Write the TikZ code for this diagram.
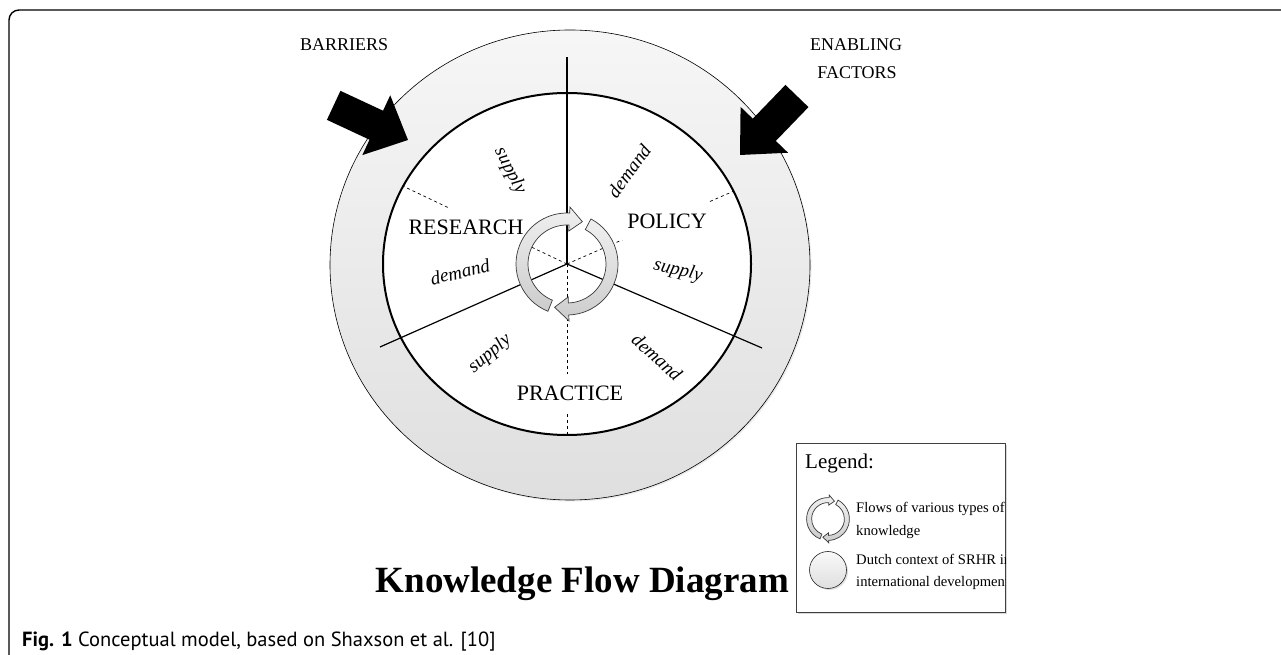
\documentclass[tikz,border=0pt]{standalone}
\usepackage{fontspec}
\setmainfont{Liberation Serif}
\newfontfamily\capfont{PT Sans}
\tikzset{
  sector/.style={line width=1.2pt, black},
  dashsector/.style={line width=0.7pt, black, dash pattern=on 3pt off 3pt},
  domainlabel/.style={font=\fontsize{22}{26}\selectfont, fill=white, inner xsep=5pt, inner ysep=12pt},
  flowlabel/.style={font=\fontsize{19}{22}\selectfont\itshape, inner sep=1pt},
  sidelabel/.style={font=\fontsize{18}{22}\selectfont, inner sep=0pt},
  flowarrow/.style={draw=gray!45!black, line width=0.7pt, top color=gray!12, bottom color=gray!40},
  legtext/.style={font=\fontsize{14.6}{16}\selectfont, anchor=base west, inner sep=0pt},
}
\newcommand{\cycarrows}[3]{%
  \begin{scope}[shift={(#1,#2)}, scale=#3]
    \path[flowarrow] (248:51) arc[start angle=248, end angle=87, radius=51]
      -- (87:57) -- (70:45) -- (87:33) -- (87:39)
      arc[start angle=87, end angle=248, radius=39] -- cycle;
    \path[flowarrow] (62:51) arc[start angle=62, end angle=-88, radius=51]
      -- (-88:57) -- (-106:45) -- (-88:33) -- (-88:39)
      arc[start angle=-88, end angle=62, radius=39] -- cycle;
  \end{scope}}
\newcommand{\blockarr}[3]{%
  \fill[black, shift={(#1,#2)}, rotate=#3] (0,0) -- (-35,33) -- (-35,16) -- (-82,16)
    -- (-82,-16) -- (-35,-16) -- (-35,-33) -- cycle;}
\begin{document}
\begin{tikzpicture}[x=1pt,y=1pt]
\useasboundingbox (0,0) rectangle (1281,655);
\clip (0,0) rectangle (1281,655);
\fill[white] (0,0) rectangle (1281,655);
% frame
\draw[line width=1.4pt, rounded corners=10pt] (9,645) rectangle (1300,-20);

% outer ring
\fill[gray!25, opacity=0.6] (571.5,388.5) ellipse [x radius=240, y radius=235];
\shade[top color=gray!7, bottom color=gray!25] (570,390) ellipse [x radius=240, y radius=235];
\draw[line width=0.6pt] (570,390) ellipse [x radius=240, y radius=235];
% inner disc
\fill[white] (567,391) ellipse [x radius=184, y radius=171];

\coordinate (c) at (567,391);
\coordinate (top) at (567,598);
\coordinate (ll) at (380,308);
\coordinate (lr) at (762,307);
\coordinate (dul) at (403.1,468.8);
\coordinate (dur) at (733.5,463.8);
\coordinate (dbot) at (567,220);

\draw[dashsector] (c) -- (dul);
\draw[dashsector] (c) -- (dur);
\draw[dashsector] (c) -- (dbot);
\draw[sector] (c) -- (top);
\draw[sector] (c) -- (ll);
\draw[sector] (c) -- (lr);
\draw[line width=2pt] (567,391) ellipse [x radius=184, y radius=171];

% domain labels
\node[domainlabel] (research) at (466,428) {RESEARCH};
\node[domainlabel] (policy) at (667,434) {POLICY};
\node[domainlabel] (practice) at (570,262) {PRACTICE};

% flow labels
\node[flowlabel, rotate=-63] (s1) at (510,484) {supply};
\node[flowlabel, rotate=54] (d1) at (629,484) {demand};
\node[flowlabel, rotate=13] (d2) at (460,383) {demand};
\node[flowlabel, rotate=-13] (s2) at (678,384) {supply};
\node[flowlabel, rotate=40] (s3) at (490,301) {supply};
\node[flowlabel, rotate=-42] (d3) at (657,298) {demand};

% central cycle
\cycarrows{567}{391}{1}

% block arrows
\blockarr{408}{515}{-25}
\blockarr{740}{500}{226}
\node[sidelabel, anchor=base west] (barriers) at (300,604) {BARRIERS};
\node[sidelabel, anchor=base] (enabling) at (856,604) {ENABLING};
\node[sidelabel, anchor=base] (factors) at (857,576) {FACTORS};

% title
\node[font=\fontsize{37}{40}\selectfont\bfseries, anchor=base east, inner sep=0pt] (title) at (789,62) {Knowledge Flow Diagram};

% legend
\fill[gray!30] (798,41) rectangle (1007,210);
\draw[fill=white, draw=gray!50!black, line width=0.8pt] (796,43) rectangle (1005,212);
\begin{scope}
\clip (796,43) rectangle (1005,212);
\node[legtext, font=\fontsize{21}{22}\selectfont] (legend) at (805,186) {Legend:};
\cycarrows{828}{136}{0.42}
\node[legtext] (l1) at (856,142) {Flows of various types of};
\node[legtext] (l2) at (856,119) {knowledge};
\fill[gray!25] (829.5,83.5) circle (18.5);
\shade[top color=gray!5, bottom color=gray!25] (828,85) circle (18.5);
\draw[gray!30!black, line width=0.6pt] (828,85) circle (18.5);
\node[legtext] (l3) at (856,90) {Dutch context of SRHR in};
\node[legtext] (l4) at (856,68) {international development};
\end{scope}

% caption
\node[font=\capfont\fontsize{20.5}{22}\selectfont, anchor=base west, inner sep=0pt] (caption) at (22,8) {\textbf{Fig. 1} Conceptual model, based on Shaxson et al. [10]};
\end{tikzpicture}
\end{document}
